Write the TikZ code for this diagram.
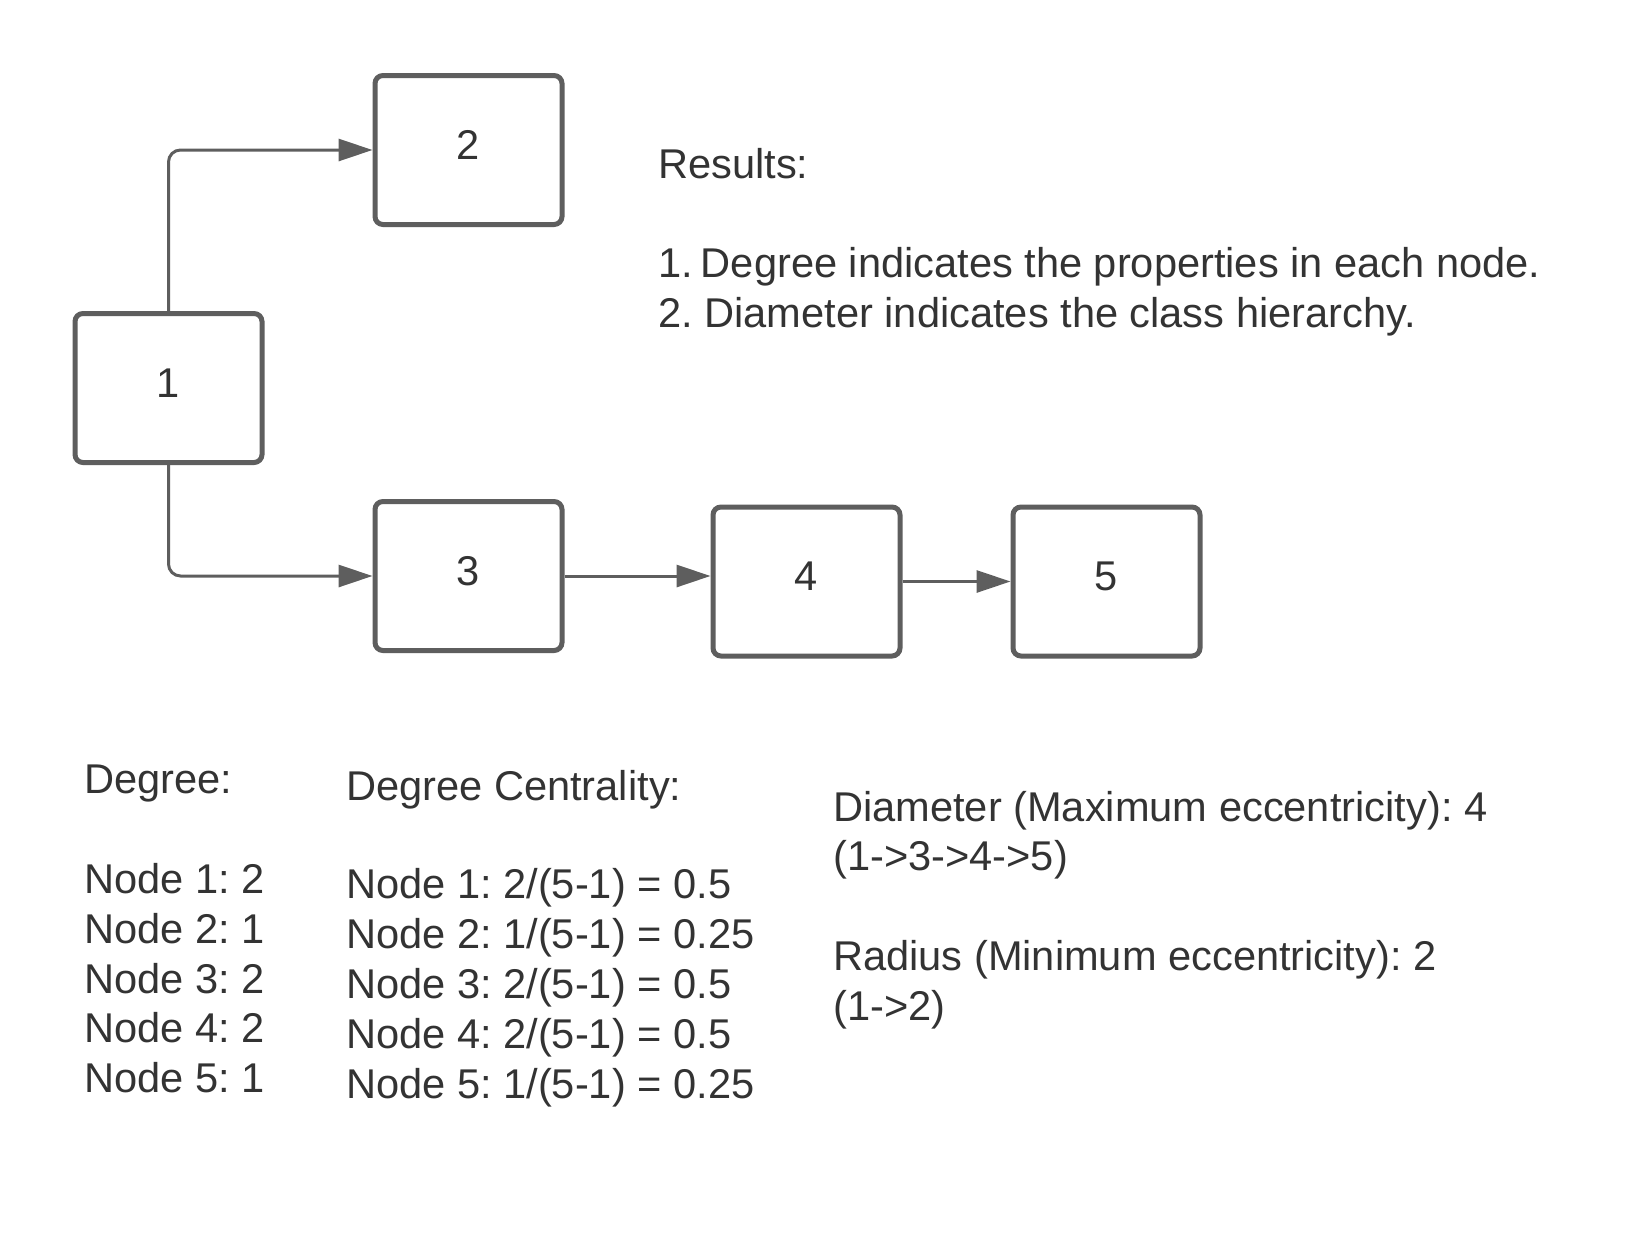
\documentclass[tikz,border=0pt]{standalone}
\usepackage{fontspec}
\setmainfont{Liberation Sans}
\usetikzlibrary{arrows.meta}
\definecolor{linegray}{HTML}{5E5E5E}
\definecolor{txt}{HTML}{333333}
\frenchspacing
\begin{document}
\begin{tikzpicture}[x=1pt,y=-1pt,
  box/.style={draw=linegray, line width=5pt, rounded corners=8pt, minimum width=187pt, minimum height=149pt, inner sep=0pt, font=\fontsize{41.6}{49}\selectfont, text=txt, text depth=10pt},
  conn/.style={draw=linegray, line width=3pt, -{Triangle[length=34pt,width=22pt]}, rounded corners=12pt},
  lbl/.style={anchor=base west, inner sep=0pt, font=\fontsize{41.6}{49}\selectfont, text=txt}]
\fill[white] (0,0) rectangle (1639,1245);
\useasboundingbox (0,0) rectangle (1639,1245);

\node[box] (n1) at (168.5,388) {1};
\node[box] (n2) at (468.5,150) {2};
\node[box] (n3) at (468.5,576) {3};
\node[box] (n4) at (806.5,581.5) {4};
\node[box] (n5) at (1106.5,581.5) {5};

\draw[conn] (n1.north) |- (n2.west);
\draw[conn] (n1.south) |- (n3.west);
\draw[conn] (n3.east) -- (n3.east -| n4.west);
\draw[conn] (n4.east) -- (n5.west);

\node[lbl] (res) at (658,178.5) {Results:};
\node[lbl] (res1) at (658,277.5) {1.\hspace{8pt}Degree indicates the properties in each node.};
\node[lbl] (res2) at (658,327.5) {2. Diameter indicates the class hierarchy.};

\node[lbl] (deg) at (84,793.5) {Degree:};
\node[lbl] (deg1) at (84,893.5) {Node 1: 2};
\node[lbl] (deg2) at (84,943.3) {Node 2: 1};
\node[lbl] (deg3) at (84,993.1) {Node 3: 2};
\node[lbl] (deg4) at (84,1042.9) {Node 4: 2};
\node[lbl] (deg5) at (84,1092.7) {Node 5: 1};

\node[lbl] (dc) at (346,800.3) {Degree Centrality:};
\node[lbl] (dc1) at (346,898.5) {Node 1: 2/(5-1) = 0.5};
\node[lbl] (dc2) at (346,948.5) {Node 2: 1/(5-1) = 0.25};
\node[lbl] (dc3) at (346,998.5) {Node 3: 2/(5-1) = 0.5};
\node[lbl] (dc4) at (346,1048.5) {Node 4: 2/(5-1) = 0.5};
\node[lbl] (dc5) at (346,1098.5) {Node 5: 1/(5-1) = 0.25};

\node[lbl] (dia) at (833,821) {Diameter (Maximum eccentricity): 4};
\node[lbl] (dia2) at (833,870) {(1->3->4->5)};
\node[lbl] (rad) at (833,970.5) {Radius (Minimum eccentricity): 2};
\node[lbl] (rad2) at (833,1020) {(1->2)};
\end{tikzpicture}
\end{document}
